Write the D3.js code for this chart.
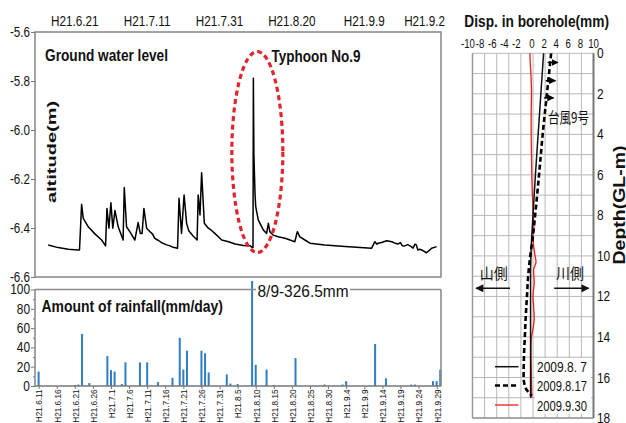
<!DOCTYPE html>
<html><head><meta charset="utf-8">
<script src="https://cdn.jsdelivr.net/npm/d3@7"></script>
<style>
body{margin:0;background:#fff}
svg{display:block}
text{font-family:"Liberation Sans",Arial,sans-serif;fill:#111}
</style>
</head><body>
<svg id="c" width="626" height="423"></svg>
<script>
// ---------------- DATA ----------------
// Ground water level (days after H21.6.11, altitude m)
const gwDay = [2.66,5.4,8.2,10.95,11.3,11.88,12.34,13.72,15.56,17.41,18.5,18.88,19.43,19.98,20.5,21.1,22.0,23.35,23.67,24.3,25.2,26.6,27.5,28.1,28.6,29.1,29.85,30.8,31.5,32.1,33.0,34.0,35.4,36.3,37.2,38.4,38.8,39.5,40.2,40.9,41.5,42.7,43.8,44.1,44.6,45.05,45.8,46.9,47.8,48.7,49.6,50.6,52.5,54.3,56.6,58.4,59.1,59.25,59.35,59.5,59.8,60.0,60.7,62.1,63.0,63.5,63.9,64.8,66.2,68.1,70.8,71.5,72.2,73.6,75.0,79.1,84.7,92.0,92.95,93.5,93.9,95.0,96.2,97.6,98.5,99.4,100.0,100.5,101.2,102.0,103.0,103.5,104.0,104.4,104.8,105.3,106.2,107.2,108.6,110.0];
const gwLevel = [-6.469,-6.480,-6.487,-6.490,-6.490,-6.303,-6.361,-6.395,-6.424,-6.449,-6.473,-6.320,-6.401,-6.297,-6.401,-6.329,-6.395,-6.449,-6.235,-6.395,-6.415,-6.449,-6.378,-6.422,-6.422,-6.320,-6.401,-6.415,-6.425,-6.442,-6.450,-6.460,-6.469,-6.473,-6.479,-6.483,-6.279,-6.422,-6.265,-6.381,-6.411,-6.433,-6.449,-6.265,-6.347,-6.174,-6.381,-6.401,-6.410,-6.422,-6.435,-6.449,-6.456,-6.465,-6.471,-6.472,-6.480,-6.480,-5.789,-6.10,-6.257,-6.313,-6.367,-6.408,-6.422,-6.381,-6.415,-6.429,-6.436,-6.442,-6.456,-6.415,-6.436,-6.449,-6.462,-6.469,-6.476,-6.483,-6.456,-6.466,-6.462,-6.458,-6.452,-6.456,-6.462,-6.465,-6.460,-6.472,-6.473,-6.468,-6.476,-6.482,-6.466,-6.469,-6.490,-6.487,-6.492,-6.501,-6.483,-6.476];
const levelTicks = [-5.6,-5.8,-6.0,-6.2,-6.4,-6.6];
const topTickDates = ["2009-06-21","2009-07-11","2009-07-31","2009-08-20","2009-09-09","2009-09-29"];
const topTickLabels = ["H21.6.21","H21.7.11","H21.7.31","H21.8.20","H21.9.9","H21.9.2"];
// typhoon annotation extent (days after 6/11, altitude)
const typhoonDays = [53.4, 67.5];
const typhoonLevels = [-5.68, -6.50];

// Rainfall (mm/day)
const rainDates = ["2009-06-11","2009-06-21","2009-06-22","2009-06-23","2009-06-25","2009-06-30","2009-07-01","2009-07-02","2009-07-04","2009-07-05","2009-07-09","2009-07-11","2009-07-14","2009-07-18","2009-07-20","2009-07-21","2009-07-22","2009-07-26","2009-07-27","2009-07-28","2009-08-02","2009-08-03","2009-08-05","2009-08-09","2009-08-10","2009-08-13","2009-08-15","2009-08-21","2009-08-29","2009-09-03","2009-09-04","2009-09-12","2009-09-15","2009-09-22","2009-09-23","2009-09-28","2009-09-29","2009-09-30"];
const rainMm = [15,1,1.5,54,3,31,16.5,15,2,24.5,24.5,24.5,4,8.5,50,17,36.5,36.5,34,14,12,2.5,2,326.5,22,17,1,29,1.5,1.5,5,43.5,8,1.5,1.5,5,5,17];
const rainTicks = [0,20,40,60,80,100];
const rainTickDates = ["2009-06-11","2009-06-16","2009-06-21","2009-06-26","2009-07-01","2009-07-06","2009-07-11","2009-07-16","2009-07-21","2009-07-26","2009-07-31","2009-08-05","2009-08-10","2009-08-15","2009-08-20","2009-08-25","2009-08-30","2009-09-04","2009-09-09","2009-09-14","2009-09-19","2009-09-24","2009-09-29"];
const rainTickLabels = ["H21.6.11","H21.6.16","H21.6.21","H21.6.26","H21.7.1","H21.7.6","H21.7.11","H21.7.16","H21.7.21","H21.7.26","H21.7.31","H21.8.5","H21.8.10","H21.8.15","H21.8.20","H21.8.25","H21.8.30","H21.9.4","H21.9.9","H21.9.14","H21.9.19","H21.9.24","H21.9.29"];

// Borehole displacement (mm) vs depth (GL-m)
const dispTicks = [-10,-8,-6,-4,-2,0,2,4,6,8,10];
const depthTicks = [0,2,4,6,8,10,12,14,16,18];
const depthA = [0,2,4,6,8,9,10,11,12,13,14,15,16,17];
const dispA  = [1.75,1.3,0.85,0.4,0.0,-0.2,-0.35,-0.4,-0.4,-0.4,-0.4,-0.4,-0.4,-0.4];   // 2009.8.7
const depthB = [0,2,4,6,8,9,10,11,12,13,14,15,16,16.5,16.9];
const dispB  = [3.0,2.3,1.6,1.0,0.35,0.0,-0.45,-0.8,-1.0,-1.2,-1.35,-1.5,-1.55,-1.25,-0.2]; // 2009.8.17
const depthC = [0,0.5,1,2,3,4,5,6,7,8,8.6,9,9.5,10,10.3,10.7,11.3,12,12.5,13.1,13.6,14.1,14.7,15.5,16.3,17];
const dispC  = [-0.5,-0.45,-0.35,-0.25,-0.3,-0.3,-0.25,-0.2,-0.1,0.05,0.15,0.0,0.1,0.35,0.5,0.1,0.2,0.0,0.1,0.2,0.0,-0.3,-0.35,-0.3,-0.25,-0.2]; // 2009.9.30
const arrowDepth = [0.45,1.35,2.2];
const arrowFrom = [2.4,2.1,1.8];
const arrowTo = [4.1,3.7,3.4];
const legendLabels = ["2009.8. 7","2009.8.17","2009.9.30"];

// ---------------- DRAW ----------------
const svg = d3.select("#c");
const parse = d3.timeParse("%Y-%m-%d");
const day0 = new Date(2009,5,11);
const dayToDate = d => new Date(day0.getTime() + d*864e5);
const GRAY = "#8c8c8c";
const CJK = '"Noto Sans CJK JP","Noto Sans CJK SC",sans-serif';

function squeeze(sel, f){
  sel.each(function(){
    const w = this.getComputedTextLength();
    if (w > 0) d3.select(this).attr("textLength", w*f).attr("lengthAdjust","spacingAndGlyphs");
  });
  return sel;
}

const x = d3.scaleTime().domain([new Date(2009,5,10), new Date(2009,8,30,5)]).range([35,441]);

// ===== Ground water level chart =====
const yL = d3.scaleLinear().domain([-6.6,-5.6]).range([277,32]);
svg.append("rect").attr("x",35).attr("y",32).attr("width",406).attr("height",245)
  .attr("fill","none").attr("stroke",GRAY).attr("stroke-width",1.6);

const gy = svg.append("g").attr("transform","translate(35,0)")
  .call(d3.axisLeft(yL).tickValues(levelTicks).tickFormat(d=>d.toFixed(1)).tickSize(4).tickPadding(1));
gy.select(".domain").remove();
gy.selectAll("line").attr("stroke","#777");
gy.selectAll("text").style("font-size","14px").attr("fill","#222");
squeeze(gy.selectAll("text"),0.83);

const topLab = svg.append("g").selectAll("text").data(topTickDates).join("text")
  .attr("x", (d,i)=> x(parse(d)) + (i===topTickDates.length-1 ? 8.5 : 0))
  .attr("y",25.5)
  .attr("text-anchor",(d,i)=> i===topTickDates.length-1 ? "end" : "middle")
  .style("font-size","15px").attr("fill","#222")
  .text((d,i)=>topTickLabels[i]);
squeeze(topLab,0.78);

const gw = gwDay.map((d,i)=>({t:dayToDate(d), v:gwLevel[i]}));
svg.append("path").datum(gw)
  .attr("d", d3.line().x(d=>x(d.t)).y(d=>yL(d.v)))
  .attr("fill","none").attr("stroke","#000").attr("stroke-width",1.5).attr("stroke-linejoin","round");

// typhoon ellipse
const ex0 = x(dayToDate(typhoonDays[0])), ex1 = x(dayToDate(typhoonDays[1]));
const ey0 = yL(typhoonLevels[0]), ey1 = yL(typhoonLevels[1]);
svg.append("ellipse").attr("cx",(ex0+ex1)/2).attr("cy",(ey0+ey1)/2)
  .attr("rx",(ex1-ex0)/2).attr("ry",(ey1-ey0)/2)
  .attr("fill","none").attr("stroke","#e3242b").attr("stroke-width",3.2).attr("stroke-dasharray","5,3.5");

svg.append("text").attr("x",45).attr("y",61).style("font-size","17px").style("font-weight","bold")
  .attr("textLength",123).attr("lengthAdjust","spacingAndGlyphs").text("Ground water level");
svg.append("text").attr("x",271.5).attr("y",62).style("font-size","17px").style("font-weight","bold")
  .attr("textLength",89).attr("lengthAdjust","spacingAndGlyphs").text("Typhoon No.9");
svg.append("text").attr("transform","translate(51,152) scale(0.65,1) rotate(-90)")
  .attr("text-anchor","middle").attr("dy","0.36em")
  .style("font-size","20px").style("font-weight","bold").text("altitude(m)");

// ===== Rainfall chart =====
const yR = d3.scaleLinear().domain([0,100]).range([386,289.5]);
const rainG = svg.append("g");
rainG.selectAll("rect").data(rainDates).join("rect")
  .attr("x", d=>x(parse(d))-1).attr("width",2)
  .attr("y", (d,i)=>Math.max(yR(rainMm[i]),281))
  .attr("height", (d,i)=>yR(0)-Math.max(yR(rainMm[i]),281))
  .attr("fill","#2f7ec5");

const gyR = svg.append("g").attr("transform","translate(35,0)")
  .call(d3.axisLeft(yR).tickValues(rainTicks).tickSize(4).tickPadding(1));
gyR.select(".domain").remove();
gyR.selectAll("line").attr("stroke","#777");
gyR.selectAll("text").style("font-size","14px").attr("fill","#222");
squeeze(gyR.selectAll("text"),0.85);
const gyR2 = svg.append("g").attr("transform","translate(35,0)")
  .call(d3.axisLeft(yR).tickValues([10,30,50,70,90]).tickSize(2).tickFormat(""));
gyR2.select(".domain").remove();
gyR2.selectAll("line").attr("stroke","#777");

const gxR = svg.append("g").attr("transform",`translate(0,${yR(0)})`)
  .call(d3.axisBottom(x).tickValues(rainTickDates.map(parse)).tickSize(3)
        .tickFormat((d,i)=>rainTickLabels[i]));
gxR.select(".domain").remove();
gxR.selectAll("line").attr("stroke","#777");
gxR.selectAll("text")
  .attr("transform","rotate(-90)")
  .attr("x",-3.5).attr("y",0.5).attr("dy","0.35em")
  .style("text-anchor","end").style("font-size","8.2px").attr("fill","#222");

// annotation for clipped bar
svg.append("text").attr("x",257.5).attr("y",296.5).style("font-size","16px")
  .attr("textLength",91).attr("lengthAdjust","spacingAndGlyphs").text("8/9-326.5mm");

// frame
const fr = svg.append("g").attr("stroke",GRAY).attr("stroke-width",1.6).attr("fill","none");
fr.append("line").attr("x1",35).attr("x2",35).attr("y1",yR(100)).attr("y2",yR(0));
fr.append("line").attr("x1",441).attr("x2",441).attr("y1",yR(100)).attr("y2",yR(0));
fr.append("line").attr("x1",35).attr("x2",441).attr("y1",yR(0)).attr("y2",yR(0)).attr("stroke","#777");
fr.append("line").attr("x1",35).attr("x2",256).attr("y1",yR(100)).attr("y2",yR(100));
fr.append("line").attr("x1",350).attr("x2",441).attr("y1",yR(100)).attr("y2",yR(100));

svg.append("text").attr("x",41.5).attr("y",311.5).style("font-size","16.5px").style("font-weight","bold")
  .attr("textLength",181.5).attr("lengthAdjust","spacingAndGlyphs").text("Amount of rainfall(mm/day)");

// ===== Borehole chart =====
const xb = d3.scaleLinear().domain([-10,10]).range([472.5,593.5]);
const yb = d3.scaleLinear().domain([0,18]).range([53.3,418]);
const grid = svg.append("g").attr("stroke","#b8b8b8").attr("stroke-width",1);
grid.selectAll("line.v").data(d3.range(-10,11,2)).join("line").attr("class","v")
  .attr("x1",d=>xb(d)).attr("x2",d=>xb(d)).attr("y1",yb(0)).attr("y2",yb(18));
grid.selectAll("line.h").data(d3.range(0,19,1)).join("line").attr("class","h")
  .attr("x1",xb(-10)).attr("x2",xb(10)).attr("y1",d=>yb(d)).attr("y2",d=>yb(d));
svg.append("line").attr("x1",xb(-10)).attr("x2",xb(-10)).attr("y1",yb(0)).attr("y2",yb(18))
  .attr("stroke","#999").attr("stroke-width",1.5);
svg.append("line").attr("x1",xb(10)).attr("x2",xb(10)).attr("y1",yb(0)).attr("y2",yb(18))
  .attr("stroke","#777").attr("stroke-width",2);
svg.append("line").attr("x1",xb(-10)).attr("x2",xb(10)).attr("y1",yb(18)).attr("y2",yb(18))
  .attr("stroke","#999").attr("stroke-width",1.5);

const dLab = svg.append("g").selectAll("text").data(dispTicks).join("text")
  .attr("x",d=>xb(d) + (d<0 ? -4.5 : (d===10?0:-1))).attr("y",48)
  .attr("text-anchor","middle").style("font-size","13px").attr("fill","#222")
  .text(d=>String(d));
squeeze(dLab,0.74);
const zLab = svg.append("g").selectAll("text").data(depthTicks).join("text")
  .attr("x",597).attr("y",d=>yb(d)).attr("dy","0.36em")
  .style("font-size","14px").attr("fill","#222").text(d=>String(d));
squeeze(zLab,0.85);

svg.append("text").attr("x",536.7).attr("y",26.5).attr("text-anchor","middle")
  .style("font-size","16.5px").style("font-weight","bold")
  .attr("textLength",144.7).attr("lengthAdjust","spacingAndGlyphs").text("Disp. in borehole(mm)");
svg.append("text").attr("transform","translate(619,205) scale(0.8,1) rotate(-90)")
  .attr("text-anchor","middle").attr("dy","0.36em")
  .style("font-size","19.5px").style("font-weight","bold").text("Depth(GL-m)");

const defs = svg.append("defs");
defs.append("marker").attr("id","ah").attr("viewBox","0 0 10 10").attr("refX",9).attr("refY",5)
  .attr("markerWidth",7).attr("markerHeight",7).attr("markerUnits","userSpaceOnUse").attr("orient","auto")
  .append("path").attr("d","M0,0L10,5L0,10Z").attr("fill","#000");
defs.append("marker").attr("id","ahBig").attr("viewBox","0 0 10 10").attr("refX",9).attr("refY",5)
  .attr("markerWidth",9).attr("markerHeight",8).attr("markerUnits","userSpaceOnUse").attr("orient","auto")
  .append("path").attr("d","M0,0L10,5L0,10Z").attr("fill","#111");

const bline = d3.line().x(d=>xb(d[1])).y(d=>yb(d[0])).curve(d3.curveMonotoneY);
svg.append("path").datum(depthC.map((d,i)=>[d,dispC[i]])).attr("d",bline)
  .attr("fill","none").attr("stroke","#e3201b").attr("stroke-width",1.3);
svg.append("path").datum(depthA.map((d,i)=>[d,dispA[i]])).attr("d",bline)
  .attr("fill","none").attr("stroke","#111").attr("stroke-width",1.5);
svg.append("path").datum(depthB.map((d,i)=>[d,dispB[i]])).attr("d",bline)
  .attr("fill","none").attr("stroke","#000").attr("stroke-width",2.6).attr("stroke-dasharray","5,3");

svg.append("g").selectAll("line").data(arrowDepth).join("line")
  .attr("x1",(d,i)=>xb(arrowFrom[i])).attr("x2",(d,i)=>xb(arrowTo[i]))
  .attr("y1",d=>yb(d)).attr("y2",d=>yb(d))
  .attr("stroke","#000").attr("stroke-width",1.4).attr("marker-end","url(#ah)");

svg.append("text").attr("x",548).attr("y",123).style("font-family",CJK).style("font-size","15px")
  .attr("textLength",41).attr("lengthAdjust","spacingAndGlyphs").text("台風9号");

// side arrows
svg.append("line").attr("x1",xb(-3.8)).attr("x2",xb(-9.4)).attr("y1",yb(11.6)).attr("y2",yb(11.6))
  .attr("stroke","#111").attr("stroke-width",1.5).attr("marker-end","url(#ahBig)");
svg.append("line").attr("x1",xb(3.5)).attr("x2",xb(9.2)).attr("y1",yb(11.6)).attr("y2",yb(11.6))
  .attr("stroke","#111").attr("stroke-width",1.5).attr("marker-end","url(#ahBig)");
svg.append("text").attr("x",xb(-6.5)).attr("y",yb(10.85)).attr("text-anchor","middle").attr("dy","0.36em")
  .style("font-family",CJK).style("font-size","15px").attr("textLength",28).attr("lengthAdjust","spacingAndGlyphs").text("山側");
svg.append("text").attr("x",xb(6.1)).attr("y",yb(10.85)).attr("text-anchor","middle").attr("dy","0.36em")
  .style("font-family",CJK).style("font-size","15px").attr("textLength",28).attr("lengthAdjust","spacingAndGlyphs").text("川側");

// legend
svg.append("rect").attr("x",535).attr("y",358).attr("width",56).attr("height",56).attr("fill","#fff");
const legY = [366.7,385.5,405];
const legStyles = [{s:"#111",w:1.5,da:null},{s:"#000",w:2.6,da:"5,3"},{s:"#e3201b",w:1.3,da:null}];
const lg = svg.append("g");
legY.forEach((y,i)=>{
  lg.append("line").attr("x1",495).attr("x2",518.5).attr("y1",y).attr("y2",y)
    .attr("stroke",legStyles[i].s).attr("stroke-width",legStyles[i].w).attr("stroke-dasharray",legStyles[i].da);
  lg.append("text").attr("x",537).attr("y",y).attr("dy","0.36em").style("font-size","15.5px").attr("fill","#111")
    .attr("textLength",50).attr("lengthAdjust","spacingAndGlyphs").text(legendLabels[i]);
});
</script>
</body></html>
